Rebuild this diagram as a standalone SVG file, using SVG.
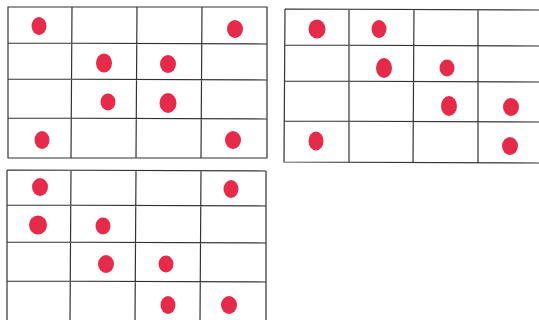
<svg xmlns="http://www.w3.org/2000/svg" width="539" height="320" viewBox="0 0 539 320">
<style>
.g{fill:none;stroke:#333;stroke-width:1.2}
.d{fill:#e62a4a}
</style>
<rect width="539" height="320" fill="#fff"/>
<g id="grid1">
<path class="g" d="M8,7 L267,7 L267,158 L8,158 Z M72,7 L71,158 M137,7 L136,158 M202,7 L201,158 M8,43 L267,44 M8,79 L267,80 M8,118 L267,119"/>
<ellipse class="d" cx="39" cy="26" rx="7.5" ry="9"/>
<ellipse class="d" cx="235" cy="29" rx="8" ry="9"/>
<ellipse class="d" cx="104" cy="63" rx="8" ry="9.5"/>
<ellipse class="d" cx="168" cy="64" rx="8" ry="9"/>
<ellipse class="d" cx="108" cy="102" rx="7.5" ry="8.5"/>
<ellipse class="d" cx="168" cy="103" rx="8.5" ry="10"/>
<ellipse class="d" cx="42" cy="140" rx="7.5" ry="9"/>
<ellipse class="d" cx="233" cy="140" rx="8" ry="9"/>
</g>
<g id="grid2">
<path class="g" d="M285,9 L540,10 M285,9 L284,162 L540,163 M349,9 L349,162 M414,9 L413,162 M478,10 L478,163 M285,45 L540,46 M285,81 L540,82 M284,121 L540,122"/>
<ellipse class="d" cx="317" cy="29" rx="8.5" ry="9.5"/>
<ellipse class="d" cx="379" cy="29" rx="7.5" ry="9"/>
<ellipse class="d" cx="384" cy="68" rx="8" ry="10"/>
<ellipse class="d" cx="447" cy="68" rx="7.5" ry="8.5"/>
<ellipse class="d" cx="449" cy="106" rx="8" ry="10"/>
<ellipse class="d" cx="511" cy="107" rx="8" ry="9"/>
<ellipse class="d" cx="316" cy="141" rx="7.5" ry="9.5"/>
<ellipse class="d" cx="510" cy="146" rx="8" ry="9"/>
</g>
<g id="grid3">
<path class="g" d="M7,170 L266,171 M7,170 L7,321 M266,171 L266,321 M71,170 L70,321 M136,170 L135,321 M201,171 L200,321 M7,205 L266,206 M7,242 L266,243 M7,281 L266,282"/>
<ellipse class="d" cx="40" cy="187" rx="8" ry="9"/>
<ellipse class="d" cx="231" cy="189" rx="7.5" ry="9"/>
<ellipse class="d" cx="38" cy="225" rx="9" ry="9.5"/>
<ellipse class="d" cx="103" cy="226" rx="7.5" ry="8.5"/>
<ellipse class="d" cx="106" cy="264" rx="8" ry="9"/>
<ellipse class="d" cx="166" cy="264" rx="7.5" ry="8.5"/>
<ellipse class="d" cx="168" cy="305" rx="7.5" ry="9"/>
<ellipse class="d" cx="229" cy="305" rx="8" ry="9"/>
</g>
</svg>
